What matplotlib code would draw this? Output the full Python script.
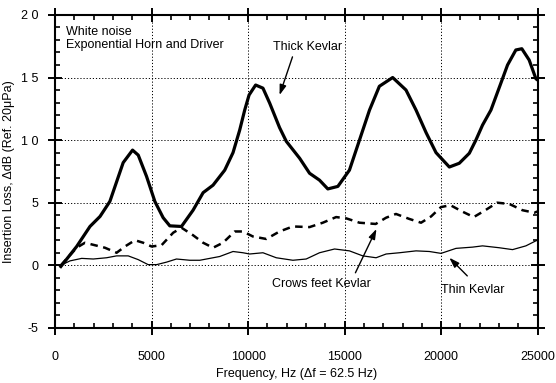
"""Insertion loss of Kevlar samples — horn + driver, white noise"""

import matplotlib
matplotlib.use("Agg")
import matplotlib.pyplot as plt
from matplotlib.ticker import MultipleLocator

plt.rcParams["font.family"] = ["Liberation Sans", "DejaVu Sans"]

# thick kevlar
thick_f = [300, 1120, 1810, 2330, 2840, 3530, 4015, 4310, 4740, 5170, 5600, 5945,
           6550, 7150, 7670, 8185, 8790, 9220, 9565, 9825, 10050, 10390, 10770,
           11120, 11630, 11980, 12670, 13185, 13700, 14130, 14650, 15250, 15770,
           16290, 16800, 17490, 18180, 18700, 19220, 19735, 20425, 20940, 21460,
           21800, 22145, 22580, 23095, 23440, 23870, 24180, 24560, 24910, 25000]
thick_db = [-0.1, 1.5, 3.1, 3.9, 5.1, 8.2, 9.2, 8.8, 7.1, 5.1, 3.8, 3.15,
            3.1, 4.4, 5.8, 6.4, 7.6, 9.0, 10.8, 12.4, 13.6, 14.4, 14.15,
            12.95, 11.0, 9.9, 8.55, 7.35, 6.8, 6.1, 6.3, 7.6, 10.0,
            12.4, 14.3, 15.0, 14.0, 12.4, 10.6, 9.0, 7.85, 8.15, 8.95,
            10.0, 11.2, 12.4, 14.55, 16.0, 17.2, 17.3, 16.4, 14.9, 14.8]

# crows feet kevlar (dashed)
crows_f = [300, 1120, 1550, 2070, 2585, 3190, 3620, 4140, 4565, 5000, 5515, 6120,
           6550, 7150, 7670, 8185, 8700, 9310, 9735, 10250, 10945, 11630, 12320,
           13185, 13870, 14560, 15080, 15770, 16610, 17150, 17660, 18355, 18960,
           19480, 19995, 20480, 21085, 21690, 22290, 22900, 23530, 24210, 24820, 25000]
crows_db = [0.0, 1.4, 1.8, 1.6, 1.4, 1.0, 1.5, 2.0, 1.8, 1.5, 1.6, 2.6,
            3.0, 2.4, 1.8, 1.4, 1.8, 2.7, 2.7, 2.3, 2.1, 2.7, 3.1,
            3.05, 3.4, 3.85, 3.75, 3.4, 3.3, 3.8, 4.1, 3.7, 3.4,
            3.9, 4.65, 4.8, 4.3, 3.85, 4.4, 5.0, 4.9, 4.4, 4.2, 4.3]

# thin kevlar
thin_f = [300, 775, 1380, 1980, 2670, 3190, 3790, 4310, 4825, 5260, 5775, 6290,
          6980, 7500, 8015, 8530, 9220, 9735, 10080, 10770, 11460, 12320, 13010,
          13700, 14480, 15250, 15940, 16630, 17150, 17840, 18700, 19390, 19995,
          20770, 21630, 22145, 23010, 23700, 24390, 24905, 25000]
thin_db = [0.0, 0.35, 0.55, 0.5, 0.6, 0.75, 0.75, 0.45, 0.05, 0.05, 0.25, 0.5,
           0.4, 0.4, 0.55, 0.7, 1.1, 1.0, 0.9, 1.0, 0.6, 0.4, 0.5,
           1.0, 1.3, 1.15, 0.75, 0.6, 0.9, 1.0, 1.15, 1.1, 0.95,
           1.35, 1.45, 1.55, 1.4, 1.25, 1.55, 1.95, 2.0]

x_ticks = [0, 5000, 10000, 15000, 20000, 25000]
y_ticks = [-5, 0, 5, 10, 15, 20]
y_ticklabels = ["-5", "0", "5", "1 0", "1 5", "2 0"]

fig = plt.figure(figsize=(5.56, 3.83), dpi=100)
ax = fig.add_axes([0.099, 0.144, 0.868, 0.817])

ax.plot(thick_f, thick_db, color="black", linewidth=2.3, solid_joinstyle="round")
ax.plot(crows_f, crows_db, color="black", linewidth=1.8, dashes=(3, 2.2))
ax.plot(thin_f, thin_db, color="black", linewidth=0.9)

ax.set_xlim(0, 25000)
ax.set_ylim(-5, 20)
ax.set_xticks(x_ticks)
ax.set_yticks(y_ticks)
ax.set_yticklabels(y_ticklabels)
ax.xaxis.set_minor_locator(MultipleLocator(1000))
ax.yaxis.set_minor_locator(MultipleLocator(1))

ax.grid(True, which="major", color="black", linestyle=(0, (1.2, 2)), linewidth=0.7)
for s in ax.spines.values():
    s.set_linewidth(1.5)

ax.tick_params(which="major", direction="inout", length=10, width=1.4,
               top=True, right=True, labelsize=9, colors="black")
ax.tick_params(which="minor", direction="in", length=3.5, width=1.2,
               top=True, right=True)
ax.tick_params(axis="x", which="major", pad=12)
ax.tick_params(axis="y", which="major", pad=7)

ax.set_xlabel("Frequency, Hz (Δf = 62.5 Hz)", fontsize=9, labelpad=3)
ax.set_ylabel("Insertion Loss, ΔdB (Ref. 20μPa)", fontsize=9, labelpad=4)

# annotations
ax.text(570, 18.65, "White noise", fontsize=9, va="center", ha="left")
ax.text(570, 17.6, "Exponential Horn and Driver", fontsize=9, va="center", ha="left")

arrow = dict(arrowstyle="-|>,head_length=0.6,head_width=0.2", color="black",
             linewidth=1.0, shrinkA=0, shrinkB=0)
ax.text(11270, 17.45, "Thick Kevlar", fontsize=9, va="center", ha="left")
ax.annotate("", xy=(11630, 13.6), xytext=(12300, 16.65), arrowprops=arrow)

ax.text(11220, -1.5, "Crows feet Kevlar", fontsize=9, va="center", ha="left")
ax.annotate("", xy=(16650, 2.9), xytext=(15560, -0.6), arrowprops=arrow)

ax.text(20010, -1.95, "Thin Kevlar", fontsize=9, va="center", ha="left")
ax.annotate("", xy=(20425, 0.6), xytext=(21355, -0.85), arrowprops=arrow)

fig.savefig("out.png", dpi=100, facecolor="white")
plt.close(fig)
